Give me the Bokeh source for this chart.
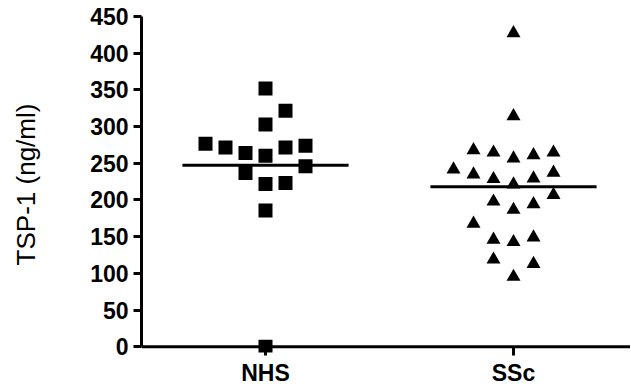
from bokeh.plotting import figure
from bokeh.models import Range1d, FixedTicker, Span, ColumnDataSource
from bokeh.transform import dodge
from bokeh.embed import file_html
from bokeh.resources import INLINE

# ---- data ----
categories = ["NHS", "SSc"]
nhs_values = [352, 321.6, 303, 276.5, 271.5, 263.9, 260.2, 271.5, 273.8,
              245.8, 236.8, 221.9, 223.2, 185.7, 0]
nhs_cols = [0, 1, 0, -3, -2, -1, 0, 1, 2, 2, -1, 0, 1, 0, 0]
ssc_values = [430, 317, 270.6, 267.4, 259.3, 263.8, 267.4, 244.4, 237.6,
              231.3, 224, 232.2, 239.9, 209.7, 200.6, 189.3, 197, 170.4,
              148.7, 145.5, 151.8, 121.6, 115.6, 98]
ssc_cols = [0, 0, -2, -1, 0, 1, 2, -3, -2, -1, 0, 1, 2, 2, -1, 0, 1, -2,
            -1, 0, 1, -1, 1, 0]
y_ticks = [0, 50, 100, 150, 200, 250, 300, 350, 400, 450]
y_label = "TSP-1 (ng/ml)"

COL_STEP = 20 / 248.0   # horizontal spacing of the scatter columns
HALF_LINE = 0.335       # half width of the mean line

positions = {c: i + 1 for i, c in enumerate(categories)}

nhs_src = ColumnDataSource(dict(
    x=[positions["NHS"] + c * COL_STEP for c in nhs_cols], y=nhs_values))
ssc_src = ColumnDataSource(dict(
    x=[positions["SSc"] + c * COL_STEP for c in ssc_cols], y=ssc_values))

means = [sum(nhs_values) / len(nhs_values), sum(ssc_values) / len(ssc_values)]
mean_src = ColumnDataSource(dict(
    x0=[positions[c] - HALF_LINE for c in categories],
    x1=[positions[c] + HALF_LINE for c in categories],
    y=means))

p = figure(frame_width=489, frame_height=336,
           output_backend="svg", toolbar_location=None,
           x_range=Range1d(0.5, 0.5 + 489 / 248.0), y_range=Range1d(-7.8, 450),
           min_border_left=141, min_border_right=0,
           min_border_top=16, min_border_bottom=26)

p.outline_line_color = None
p.xgrid.visible = False
p.ygrid.visible = False
p.background_fill_color = "white"
p.border_fill_color = "white"

# x axis line at y = 0
p.add_layout(Span(location=0, dimension="width", line_color="black",
                  line_width=3, level="underlay"))

p.scatter("x", "y", source=nhs_src, marker="square", size=14,
          fill_color="black", line_color="black", line_width=0)
p.scatter("x", dodge("y", -2.7), source=ssc_src, marker="triangle", size=14,
          fill_color="black", line_color="black", line_width=0)
p.segment(x0="x0", x1="x1", y0="y", y1="y", source=mean_src,
          line_color="black", line_width=3)

# y axis
ya = p.yaxis[0]
ya.ticker = FixedTicker(ticks=y_ticks)
ya.bounds = (0, 450)
ya.axis_line_width = 3
ya.major_tick_line_width = 3
ya.major_tick_out = 8
ya.major_tick_in = 0
ya.minor_tick_line_color = None
ya.major_label_text_font = "Liberation Sans"
ya.major_label_text_font_style = "bold"
ya.major_label_text_font_size = "23px"
ya.major_label_text_color = "black"
ya.major_label_standoff = 5
ya.axis_label = y_label
ya.axis_label_text_font = "Liberation Sans"
ya.axis_label_text_font_style = "normal"
ya.axis_label_text_font_size = "26px"
ya.axis_label_text_color = "black"
ya.axis_label_standoff = 46

# x axis
xa = p.xaxis[0]
xa.ticker = FixedTicker(ticks=[positions[c] for c in categories])
xa.major_label_overrides = {positions[c]: c for c in categories}
xa.axis_line_color = None
xa.major_tick_line_width = 3
xa.major_tick_in = 6
xa.major_tick_out = 3
xa.minor_tick_line_color = None
xa.major_label_text_font = "Liberation Sans"
xa.major_label_text_font_style = "bold"
xa.major_label_text_font_size = "23px"
xa.major_label_text_color = "black"
xa.major_label_standoff = 4

open("out.html", "w").write(file_html(p, INLINE))
